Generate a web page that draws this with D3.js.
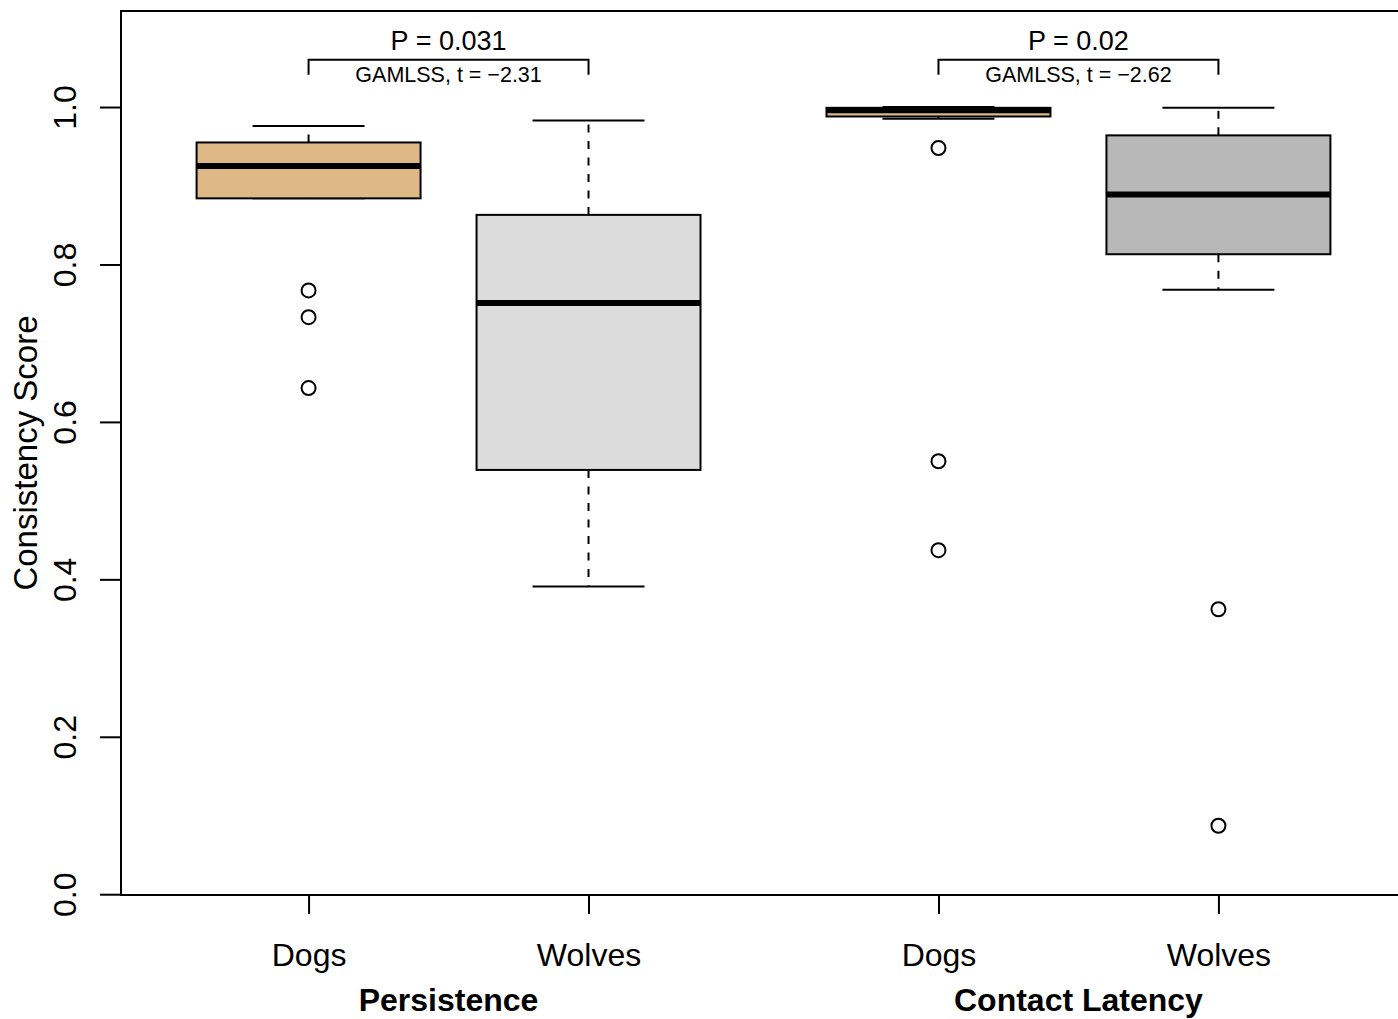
<!DOCTYPE html>
<html>
<head>
<meta charset="utf-8">
<script src="https://cdn.jsdelivr.net/npm/d3@7/dist/d3.min.js"></script>
<style>
  html, body { margin: 0; padding: 0; background: #fff; overflow: hidden; }
  svg { display: block; font-family: "Liberation Sans", Arial, Helvetica, sans-serif; }
</style>
</head>
<body>
<svg id="chart" width="1398" height="1019"></svg>
<script>
// Box positions along the x axis and their labels
const positions = [1, 2, 3.25, 4.25];
const species = ["Dogs", "Wolves", "Dogs", "Wolves"];
const measures = ["Persistence", "Contact Latency"];
const measureSpan = [[1, 2], [3.25, 4.25]];

// Five-number summaries per box
const lowerWhisker = [0.884, 0.391, 0.985, 0.768];
const q1          = [0.884, 0.539, 0.988, 0.813];
const median      = [0.925, 0.751, 0.996, 0.889];
const q3          = [0.955, 0.863, 0.999, 0.964];
const upperWhisker = [0.976, 0.983, 1.000, 0.999];

// Outlying observations per box
const outliers = [
  [0.767, 0.733, 0.643],
  [],
  [0.948, 0.550, 0.437],
  [0.362, 0.087]
];

const fills = ["#DEB887", "#DCDCDC", "#DEB887", "#B8B8B8"];

// Group comparison annotations
const pLabels = ["P = 0.031", "P = 0.02"];
const tLabels = ["GAMLSS, t = \u22122.31", "GAMLSS, t = \u22122.62"];

const yTicks = [0, 0.2, 0.4, 0.6, 0.8, 1.0];

const svg = d3.select("#chart");
const plot = { left: 121, right: 1406, top: 11, bottom: 895 };

const x = d3.scaleLinear().domain([0.33, 4.92]).range([plot.left, plot.right]);
const y = d3.scaleLinear().domain([-0.001, 1.122]).range([plot.bottom, plot.top]);

const unit = x(1) - x(0);
const boxHalf = 0.4, stapleHalf = 0.2;
const labelFont = 32;

// Y axis
const yAxis = svg.append("g")
  .attr("transform", `translate(${plot.left},0)`)
  .call(d3.axisLeft(y).tickValues(yTicks).tickFormat(d3.format(".1f")).tickSize(21).tickSizeOuter(0));
yAxis.select(".domain").attr("stroke", "#000").attr("stroke-width", 2)
  .attr("d", `M0,${y(0)}V${y(1)}`);
yAxis.selectAll(".tick line").attr("stroke", "#000").attr("stroke-width", 2);
yAxis.selectAll(".tick text")
  .attr("x", null).attr("dy", null)
  .attr("transform", "translate(-45,0) rotate(-90)")
  .attr("text-anchor", "middle")
  .attr("fill", "#000")
  .style("font-size", labelFont + "px")
  .style("font-family", "'Liberation Sans', Arial, sans-serif");

// X axis
const xAxis = svg.append("g")
  .attr("transform", `translate(0,${plot.bottom})`)
  .call(d3.axisBottom(x).tickValues(positions).tickFormat((d, i) => species[i]).tickSize(19).tickSizeOuter(0));
xAxis.select(".domain").remove();
xAxis.selectAll(".tick line").attr("stroke", "#000").attr("stroke-width", 2);
xAxis.selectAll(".tick text")
  .attr("y", 71).attr("dy", null)
  .attr("fill", "#000")
  .style("font-size", labelFont + "px")
  .style("font-family", "'Liberation Sans', Arial, sans-serif");

// Measure labels under the axis
svg.append("g").selectAll("text").data(measures).join("text")
  .attr("x", (d, i) => x((measureSpan[i][0] + measureSpan[i][1]) / 2))
  .attr("y", 1011)
  .attr("text-anchor", "middle")
  .attr("font-weight", "bold")
  .attr("font-size", labelFont)
  .text(d => d);

svg.append("text")
  .attr("transform", `translate(37,${(plot.top + plot.bottom) / 2}) rotate(-90)`)
  .attr("text-anchor", "middle")
  .attr("font-size", labelFont + 1)
  .text("Consistency Score");

// Boxplots
const boxes = svg.append("g").selectAll("g").data(positions).join("g");

// whiskers
boxes.append("line")
  .attr("x1", d => x(d)).attr("x2", d => x(d))
  .attr("y1", (d, i) => y(q3[i])).attr("y2", (d, i) => y(upperWhisker[i]))
  .attr("stroke", "#000").attr("stroke-width", 2).attr("stroke-dasharray", "8,8.5");
boxes.append("line")
  .attr("x1", d => x(d)).attr("x2", d => x(d))
  .attr("y1", (d, i) => y(q1[i])).attr("y2", (d, i) => y(lowerWhisker[i]))
  .attr("stroke", "#000").attr("stroke-width", 2).attr("stroke-dasharray", "8,8.5");

// staples
boxes.append("line")
  .attr("x1", d => x(d - stapleHalf)).attr("x2", d => x(d + stapleHalf))
  .attr("y1", (d, i) => y(upperWhisker[i])).attr("y2", (d, i) => y(upperWhisker[i]))
  .attr("stroke", "#000").attr("stroke-width", 2);
boxes.append("line")
  .attr("x1", d => x(d - stapleHalf)).attr("x2", d => x(d + stapleHalf))
  .attr("y1", (d, i) => y(lowerWhisker[i])).attr("y2", (d, i) => y(lowerWhisker[i]))
  .attr("stroke", "#000").attr("stroke-width", 2);

// box bodies
boxes.append("rect")
  .attr("x", d => x(d - boxHalf))
  .attr("width", 2 * boxHalf * unit)
  .attr("y", (d, i) => y(q3[i]))
  .attr("height", (d, i) => y(q1[i]) - y(q3[i]))
  .attr("fill", (d, i) => fills[i])
  .attr("stroke", "#000").attr("stroke-width", 2);

// medians
boxes.append("line")
  .attr("x1", d => x(d - boxHalf)).attr("x2", d => x(d + boxHalf))
  .attr("y1", (d, i) => y(median[i])).attr("y2", (d, i) => y(median[i]))
  .attr("stroke", "#000").attr("stroke-width", 6);

// outliers
boxes.each(function (d, i) {
  d3.select(this).selectAll("circle").data(outliers[i]).join("circle")
    .attr("cx", x(d)).attr("cy", v => y(v)).attr("r", 7)
    .attr("fill", "none").attr("stroke", "#000").attr("stroke-width", 2);
});

// Comparison brackets
const brackets = svg.append("g").selectAll("g").data(measureSpan).join("g");
brackets.append("path")
  .attr("d", s => `M${x(s[0])},${y(1.041)}V${y(1.06)}H${x(s[1])}V${y(1.041)}`)
  .attr("fill", "none").attr("stroke", "#000").attr("stroke-width", 2);
brackets.append("text")
  .attr("x", s => x((s[0] + s[1]) / 2)).attr("y", y(1.073))
  .attr("text-anchor", "middle").attr("font-size", 27)
  .text((s, i) => pLabels[i]);
brackets.append("text")
  .attr("x", s => x((s[0] + s[1]) / 2)).attr("y", y(1.032))
  .attr("text-anchor", "middle").attr("font-size", 21.5)
  .text((s, i) => tLabels[i]);

// Plot frame
svg.append("rect")
  .attr("x", plot.left).attr("y", plot.top)
  .attr("width", plot.right - plot.left).attr("height", plot.bottom - plot.top)
  .attr("fill", "none").attr("stroke", "#000").attr("stroke-width", 2);
</script>
</body>
</html>
